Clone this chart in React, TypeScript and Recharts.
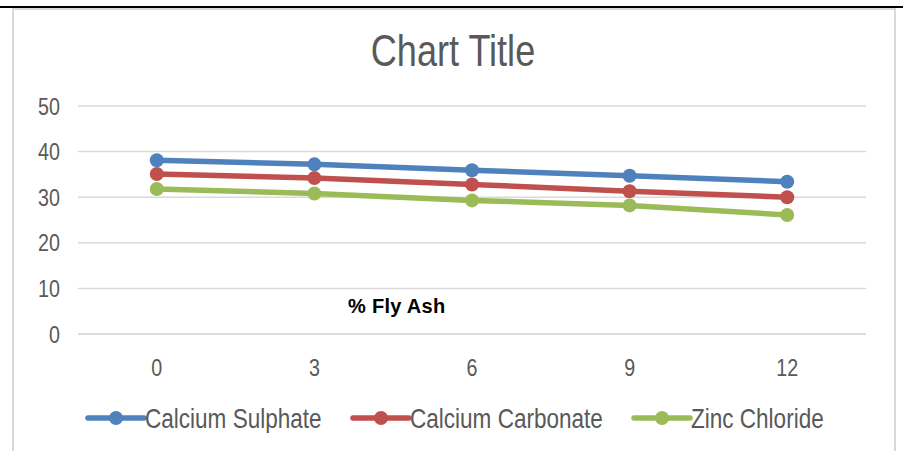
import { CartesianGrid, Legend, Line, LineChart, XAxis, YAxis } from 'recharts'

const flyAsh = ['0', '3', '6', '9', '12']
const calciumSulphate = [38.1, 37.2, 35.9, 34.7, 33.4]
const calciumCarbonate = [35.1, 34.2, 32.8, 31.3, 30.0]
const zincChloride = [31.8, 30.8, 29.3, 28.2, 26.1]
const yTicks = [0, 10, 20, 30, 40, 50]

const seriesList = [
  { key: 'sulphate', name: 'Calcium Sulphate', color: '#4f81bd', values: calciumSulphate },
  { key: 'carbonate', name: 'Calcium Carbonate', color: '#c0504d', values: calciumCarbonate },
  { key: 'zinc', name: 'Zinc Chloride', color: '#9bbb59', values: zincChloride },
]

const chartData = flyAsh.map((x, i) => ({
  x,
  sulphate: calciumSulphate[i],
  carbonate: calciumCarbonate[i],
  zinc: zincChloride[i],
}))

// no narrow font installed, so squeeze Liberation Sans horizontally
const font = '"Liberation Sans", Arial, sans-serif'
const squeeze = 0.82
const textGray = '#595959'

// left edge of each legend entry
const legendX = [87, 352, 633]

function LegendRow() {
  return (
    <svg width={903} height={30}>
      {seriesList.map((s, i) => (
        <g key={s.key} transform={`translate(${legendX[i]},15)`}>
          <line x1={1} y1={0} x2={57} y2={0} stroke={s.color} strokeWidth={5.5} strokeLinecap="round" />
          <circle cx={29} cy={0} r={7} fill={s.color} />
          <text
            x={58 / squeeze}
            dy="0.355em"
            transform={`scale(${squeeze},1)`}
            fontFamily={font}
            fontSize={27.5}
            fill={textGray}
          >
            {s.name}
          </text>
        </g>
      ))}
    </svg>
  )
}

function YTick(props: any) {
  const { x, y, payload } = props
  return (
    <g transform={`translate(${x},${y})`}>
      <text transform={`scale(${squeeze},1)`} textAnchor="end" dy="0.355em" fontFamily={font} fontSize={24} fill={textGray}>
        {payload.value}
      </text>
    </g>
  )
}

function XTick(props: any) {
  const { x, y, payload } = props
  return (
    <g transform={`translate(${x},${y})`}>
      <text transform={`scale(${squeeze},1)`} textAnchor="middle" dy="0.71em" fontFamily={font} fontSize={24} fill={textGray}>
        {payload.value}
      </text>
    </g>
  )
}

export default function App() {
  return (
    <div style={{ position: 'absolute', left: 0, top: 0, width: 903, height: 451, overflow: 'hidden', background: '#fff' }}>
      <div style={{ position: 'absolute', left: 12, top: 8, width: 880, height: 480, border: '2px solid #d9d9d9' }} />
      <div style={{ position: 'absolute', left: 0, top: 6, width: 903, height: 2, background: '#000' }} />
      <div
        style={{
          position: 'absolute',
          left: 0,
          top: 26,
          width: 906,
          textAlign: 'center',
          fontFamily: font,
          fontSize: 44,
          color: textGray,
          transform: `scaleX(${squeeze})`,
        }}
      >
        Chart Title
      </div>
      <div style={{ position: 'absolute', left: 0, top: 0 }}>
        <LineChart width={903} height={451} data={chartData} margin={{ top: 106, right: 37, left: 8, bottom: 57 }}>
          <CartesianGrid vertical={false} stroke="#d9d9d9" strokeWidth={1.5} />
          <XAxis
            dataKey="x"
            height={60}
            padding={{ left: 78.8, right: 78.8 }}
            axisLine={{ stroke: '#d9d9d9', strokeWidth: 1.5 }}
            tickLine={false}
            tickMargin={19}
            tick={<XTick />}
          />
          <YAxis
            domain={[0, 50]}
            ticks={yTicks}
            width={70}
            axisLine={false}
            tickLine={false}
            tickMargin={12}
            tick={<YTick />}
          />
          <Legend
            verticalAlign="middle"
            layout="horizontal"
            wrapperStyle={{ left: 0, top: 403, width: 903 }}
            content={() => <LegendRow />}
          />
          {seriesList.map((s) => (
            <Line
              key={s.key}
              dataKey={s.key}
              name={s.name}
              stroke={s.color}
              strokeWidth={5.5}
              dot={{ r: 7, fill: s.color, stroke: 'none' }}
              activeDot={false}
              isAnimationActive={false}
            />
          ))}
        </LineChart>
      </div>
      <div
        style={{
          position: 'absolute',
          left: 348,
          top: 295,
          fontFamily: font,
          fontWeight: 'bold',
          fontSize: 20,
          letterSpacing: 0.3,
          color: '#000',
        }}
      >
        % Fly Ash
      </div>
    </div>
  )
}
